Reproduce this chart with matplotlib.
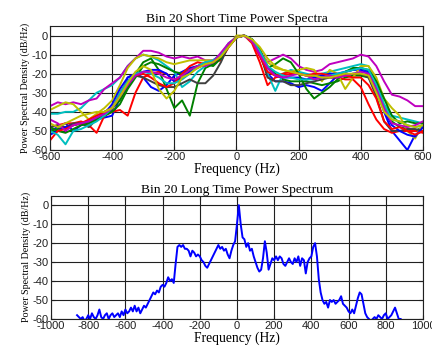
import numpy as np
import matplotlib
matplotlib.use("Agg")
import matplotlib.pyplot as plt

plt.rcParams["axes.unicode_minus"] = False

# short time spectra, sampled every 25 Hz from -600 to 600
freq_short = np.arange(-600, 601, 25)

blue1 = [-50, -48, -46, -50, -47, -46, -44,
         -43, -42, -33, -22, -20, -22, -27,
         -29, -26, -21, -19, -17, -16, -14,
         -13, -10, -5, -1, 0, -3, -10,
         -20, -24, -24, -25, -27, -26, -27,
         -29, -25, -21, -19, -18, -18, -20,
         -27, -40, -50, -55, -60, -52, -50]
green1 = [-50, -49, -48, -47, -46, -45, -44,
          -40, -38, -34, -27, -20, -14, -12,
          -18, -28, -38, -34, -42, -25, -17,
          -15, -12, -6, -1, 0, -2, -8,
          -16, -20, -23, -24, -24, -24, -25,
          -26, -25, -24, -22, -21, -21, -22,
          -28, -38, -45, -48, -49, -50, -48]
red1 = [-48, -47, -46, -46, -45, -47, -51,
        -42, -40, -39, -42, -30, -22, -20,
        -19, -20, -24, -22, -19, -17, -15,
        -14, -13, -6, -1, 0, -4, -14,
        -26, -22, -21, -20, -20, -21, -22,
        -22, -22, -22, -23, -23, -27, -36,
        -44, -49, -51, -50, -50, -50, -51]
cyan1 = [-41, -41, -40, -40, -38, -34, -30,
         -28, -26, -22, -16, -12, -10, -11,
         -13, -16, -19, -27, -24, -19, -16,
         -14, -12, -5, -1, 0, -3, -10,
         -20, -29, -20, -18, -19, -20, -21,
         -20, -19, -18, -17, -16, -15, -16,
         -24, -36, -42, -43, -44, -45, -46]
magenta1 = [-37, -35, -36, -35, -36, -34, -33,
            -28, -25, -22, -16, -12, -8, -8,
            -9, -11, -12, -11, -12, -11, -13,
            -13, -10, -4, -1, 0, -2, -8,
            -14, -12, -10, -12, -16, -18, -19,
            -18, -15, -14, -13, -12, -10, -11,
            -16, -24, -31, -32, -34, -37, -37]
yellow1 = [-39, -37, -35, -36, -40, -44, -41,
           -38, -34, -26, -17, -12, -10, -11,
           -12, -14, -15, -14, -13, -13, -13,
           -13, -12, -5, 0, 0, -3, -9,
           -14, -17, -18, -19, -18, -17, -18,
           -24, -18, -20, -28, -22, -16, -16,
           -22, -33, -38, -42, -50, -54, -46]
gray1 = [-48, -47, -48, -46, -46, -48, -44,
         -42, -39, -30, -24, -21, -22, -24,
         -26, -27, -27, -25, -23, -25, -25,
         -21, -14, -5, -1, 0, -2, -9,
         -22, -24, -24, -26, -26, -25, -24,
         -23, -22, -22, -21, -20, -20, -22,
         -32, -45, -50, -50, -49, -49, -50]
blue2 = [-52, -50, -48, -47, -46, -45, -43,
         -41, -36, -28, -22, -20, -19, -18,
         -18, -20, -24, -22, -19, -16, -15,
         -14, -12, -5, -1, 0, -2, -9,
         -17, -21, -22, -22, -22, -23, -22,
         -21, -20, -20, -19, -18, -17, -19,
         -26, -39, -47, -50, -52, -53, -48]
green2 = [-48, -50, -51, -49, -47, -46, -44,
          -42, -40, -36, -28, -22, -16, -14,
          -15, -17, -19, -20, -18, -16, -15,
          -16, -12, -5, -1, 0, -2, -7,
          -17, -15, -12, -14, -20, -28, -33,
          -30, -27, -23, -19, -17, -17, -18,
          -24, -33, -42, -46, -45, -46, -46]
red2 = [-55, -50, -49, -47, -46, -44, -42,
        -40, -38, -30, -24, -21, -20, -22,
        -25, -27, -25, -20, -16, -14, -15,
        -14, -11, -5, -1, 0, -3, -11,
        -19, -21, -20, -19, -20, -21, -20,
        -20, -21, -21, -21, -22, -22, -26,
        -33, -45, -49, -48, -50, -52, -50]
cyan2 = [-50, -52, -57, -50, -49, -47, -45,
         -42, -38, -30, -24, -20, -19, -20,
         -22, -25, -25, -23, -20, -16, -14,
         -13, -10, -4, -1, 0, -2, -8,
         -16, -19, -21, -22, -23, -23, -23,
         -22, -21, -20, -19, -18, -17, -18,
         -26, -37, -44, -45, -47, -48, -47]
magenta2 = [-44, -46, -50, -47, -46, -45, -43,
            -41, -38, -32, -26, -21, -19, -19,
            -20, -22, -23, -21, -18, -16, -16,
            -14, -9, -4, -1, 0, -3, -10,
            -17, -21, -22, -21, -20, -21, -23,
            -22, -21, -22, -21, -20, -19, -20,
            -28, -38, -46, -47, -48, -47, -45]
yellow2 = [-46, -48, -46, -44, -42, -41, -40,
           -40, -38, -32, -25, -19, -16, -18,
           -28, -33, -29, -22, -20, -17, -15,
           -14, -11, -6, -1, 0, -2, -6,
           -12, -16, -18, -19, -20, -21, -21,
           -22, -22, -21, -20, -20, -20, -21,
           -30, -40, -44, -45, -47, -48, -47]

short_curves = [blue1, green1, red1, cyan1, magenta1, yellow1, gray1,
                blue2, green2, red2, cyan2, magenta2, yellow2]
colors = ["#0000FF", "#008000", "#FF0000", "#00BFBF", "#BF00BF", "#BFBF00", "#404040"]

# long time spectrum, every 10 Hz from -860 to 880
freq_long = np.arange(-860, 881, 10)
psd_long = [-58, -59, -60, -59, -61, -60, -58, -60, -57, -59,
            -60, -58, -55, -59, -60, -58, -57, -60, -58, -57,
            -59, -58, -57, -59, -56, -58, -55, -57, -56, -54,
            -56, -53, -56, -54, -57, -55, -53, -54, -52, -50,
            -48, -46, -47, -45, -46, -43, -42, -43, -41, -38,
            -40, -39, -41, -31, -22, -21, -22, -21, -23, -23,
            -24, -27, -24, -25, -27, -26, -27, -29, -30, -32,
            -33, -31, -29, -27, -25, -23, -21, -23, -22, -24,
            -23, -26, -28, -24, -21, -19, -10, 0, -10, -17,
            -18, -22, -20, -24, -23, -27, -30, -33, -35, -34,
            -28, -19, -25, -34, -31, -28, -29, -27, -29, -27,
            -28, -31, -32, -30, -28, -30, -31, -28, -30, -27,
            -32, -28, -29, -36, -30, -28, -27, -22, -20, -27,
            -39, -46, -50, -52, -51, -54, -50, -51, -50, -52,
            -51, -50, -48, -52, -53, -54, -56, -57, -55, -57,
            -53, -49, -46, -47, -52, -57, -59, -60, -61, -60,
            -59, -60, -58, -59, -60, -58, -57, -60, -59, -58,
            -56, -54, -57, -60, -60]

serif = "Liberation Serif"
sans = "Liberation Sans"


def style(ax, xticks):
    ax.set_xticks(xticks)
    ax.set_yticks(np.arange(-60, 1, 10))
    ax.set_ylim(-60, 5)
    ax.grid(True, color="#202020", linewidth=0.8)
    ax.tick_params(direction="in", top=True, right=True, length=3,
                   labelsize=8, pad=1.5, colors="#202020")
    for lab in ax.get_xticklabels() + ax.get_yticklabels():
        lab.set_fontfamily(sans)
    for s in ax.spines.values():
        s.set_color("#202020")
    ax.set_ylabel("Power Spectral Density (dB/Hz)", fontfamily=serif,
                  fontsize=7.2, labelpad=1)
    ax.set_xlabel("Frequency (Hz)", fontfamily=serif, fontsize=9.8, labelpad=0)


fig = plt.figure(figsize=(4.32, 3.5), dpi=100)
ax1 = fig.add_axes([0.1157, 0.5714, 0.8633, 0.3543])
for i, c in enumerate(short_curves):
    ax1.plot(freq_short, c, color=colors[i % 7], linewidth=1.4)
ax1.set_xlim(-600, 600)
style(ax1, np.arange(-600, 601, 200))
ax1.set_title("Bin 20 Short Time Power Spectra", fontfamily=serif,
              fontsize=9.7, pad=3)

ax2 = fig.add_axes([0.1181, 0.0886, 0.8609, 0.3523])
ax2.plot(freq_long, psd_long, color="#0000FF", linewidth=1.4)
ax2.set_xlim(-1000, 1000)
style(ax2, np.arange(-1000, 1001, 200))
ax2.set_title("Bin 20 Long Time Power Spectrum", fontfamily=serif,
              fontsize=9.7, pad=2)

fig.savefig("out.png", dpi=100)
